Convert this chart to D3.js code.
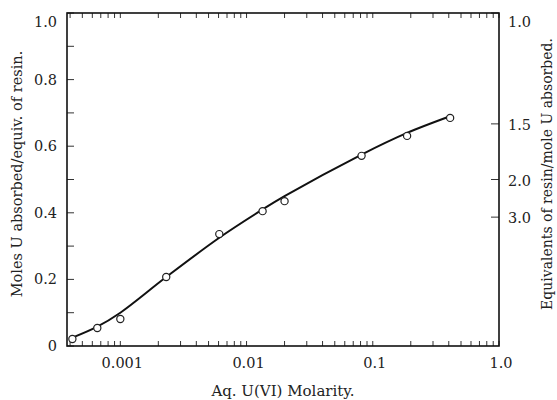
<!DOCTYPE html>
<html>
<head>
<meta charset="utf-8">
<script src="https://cdn.jsdelivr.net/npm/d3@7"></script>
<style>
  body { margin: 0; background: #fff; }
  text { font-family: "DejaVu Serif", "Liberation Serif", serif; fill: #222; }
</style>
</head>
<body>
<script>
// measured points (aq. molarity, moles U / equiv resin)
var molarity = [0.000417, 0.000657, 0.001, 0.00231, 0.00608, 0.0134, 0.0200, 0.0815, 0.187, 0.41];
var uptake   = [0.021, 0.054, 0.081, 0.207, 0.336, 0.405, 0.435, 0.571, 0.631, 0.685];

// smooth curve drawn through the data
var curveX = [0.000417, 0.000657, 0.001, 0.00231, 0.00608, 0.0134, 0.0200, 0.0815, 0.187, 0.41];
var curveY = [0.025, 0.058, 0.100, 0.207, 0.325, 0.410, 0.450, 0.575, 0.640, 0.690];

var xTickVals = [0.001, 0.01, 0.1, 1.0];
var xTickText = ["0.001", "0.01", "0.1", "1.0"];
var yTickVals = [0, 0.2, 0.4, 0.6, 0.8, 1.0];
var yTickText = ["0", "0.2", "0.4", "0.6", "0.8", "1.0"];
// right axis: equivalents of resin / mole U, placed at the left-axis value they sit on
var rTickPos  = [1.0, 0.667, 0.5, 0.387];
var rTickText = ["1.0", "1.5", "2.0", "3.0"];

var W = 557, H = 400;
var L = 67, R = 499, T = 13, B = 346;

var svg = d3.select("body").append("svg")
  .attr("width", W).attr("height", H);

var x = d3.scaleLog().domain([0.000378, 1]).range([L, R]);
var y = d3.scaleLinear().domain([0, 1]).range([B, T]);

// minor ticks for log axis
var minor = [];
[0.0001, 0.001, 0.01, 0.1].forEach(function(d) {
  for (var k = 2; k <= 9; k++) {
    var v = d * k;
    if (v >= x.domain()[0] && v < 1) minor.push(v);
  }
});

var g = svg.append("g");

// bottom and top ticks (inward)
g.selectAll("line.bt").data(minor.concat(xTickVals)).enter().append("line")
  .attr("x1", function(d) { return x(d); }).attr("x2", function(d) { return x(d); })
  .attr("y1", B).attr("y2", B - 5)
  .style("stroke", "#333").style("stroke-width", 1);
g.selectAll("line.tt").data(minor.concat(xTickVals)).enter().append("line")
  .attr("x1", function(d) { return x(d); }).attr("x2", function(d) { return x(d); })
  .attr("y1", T).attr("y2", T + 5)
  .style("stroke", "#333").style("stroke-width", 1);

// left ticks at 0.1 steps
g.selectAll("line.lt").data(d3.range(0, 1.01, 0.1)).enter().append("line")
  .attr("x1", L).attr("x2", L + 7)
  .attr("y1", function(d) { return y(d); }).attr("y2", function(d) { return y(d); })
  .style("stroke", "#333").style("stroke-width", 1);

// right ticks
g.selectAll("line.rt").data(rTickPos).enter().append("line")
  .attr("x1", R).attr("x2", R - 8)
  .attr("y1", function(d) { return y(d); }).attr("y2", function(d) { return y(d); })
  .style("stroke", "#333").style("stroke-width", 1);

// frame
g.append("rect")
  .attr("x", L).attr("y", T).attr("width", R - L).attr("height", B - T)
  .style("fill", "none").style("stroke", "#111").style("stroke-width", 1.6);

// tick labels
g.selectAll("text.xl").data(xTickVals).enter().append("text")
  .attr("x", function(d) { return x(d) + 2; }).attr("y", 368)
  .attr("text-anchor", "middle").style("font-size", "14.5px")
  .text(function(d, i) { return xTickText[i]; });

g.selectAll("text.yl").data(yTickVals).enter().append("text")
  .attr("x", 57).attr("y", function(d) { return y(d) + (d === 1 ? 14 : 5); })
  .attr("text-anchor", "end").style("font-size", "14.5px")
  .text(function(d, i) { return yTickText[i]; });

g.selectAll("text.rl").data(rTickPos).enter().append("text")
  .attr("x", 508).attr("y", function(d, i) { return y(d) + (i === 0 ? 14 : 6); })
  .attr("text-anchor", "start").style("font-size", "14.5px")
  .text(function(d, i) { return rTickText[i]; });

// axis titles
svg.append("text")
  .attr("transform", "translate(22,174) rotate(-90)")
  .attr("text-anchor", "middle").style("font-size", "14.5px")
  .text("Moles U absorbed/equiv. of resin.");
svg.append("text")
  .attr("transform", "translate(552,174) rotate(-90)")
  .attr("text-anchor", "middle").style("font-size", "14px")
  .text("Equivalents of resin/mole U absorbed.");
svg.append("text")
  .attr("x", 283).attr("y", 396)
  .attr("text-anchor", "middle").style("font-size", "15px")
  .text("Aq. U(VI) Molarity.");

// curve
var line = d3.line()
  .x(function(d) { return x(d[0]); })
  .y(function(d) { return y(d[1]); })
  .curve(d3.curveCatmullRom.alpha(0.5));

svg.append("path")
  .datum(d3.zip(curveX, curveY))
  .attr("d", line)
  .style("fill", "none").style("stroke", "#111").style("stroke-width", 2);

// data points
svg.selectAll("circle").data(d3.zip(molarity, uptake)).enter().append("circle")
  .attr("cx", function(d) { return x(d[0]); })
  .attr("cy", function(d) { return y(d[1]); })
  .attr("r", 3.6)
  .style("fill", "#fff").style("stroke", "#222").style("stroke-width", 1.2);
</script>
</body>
</html>
